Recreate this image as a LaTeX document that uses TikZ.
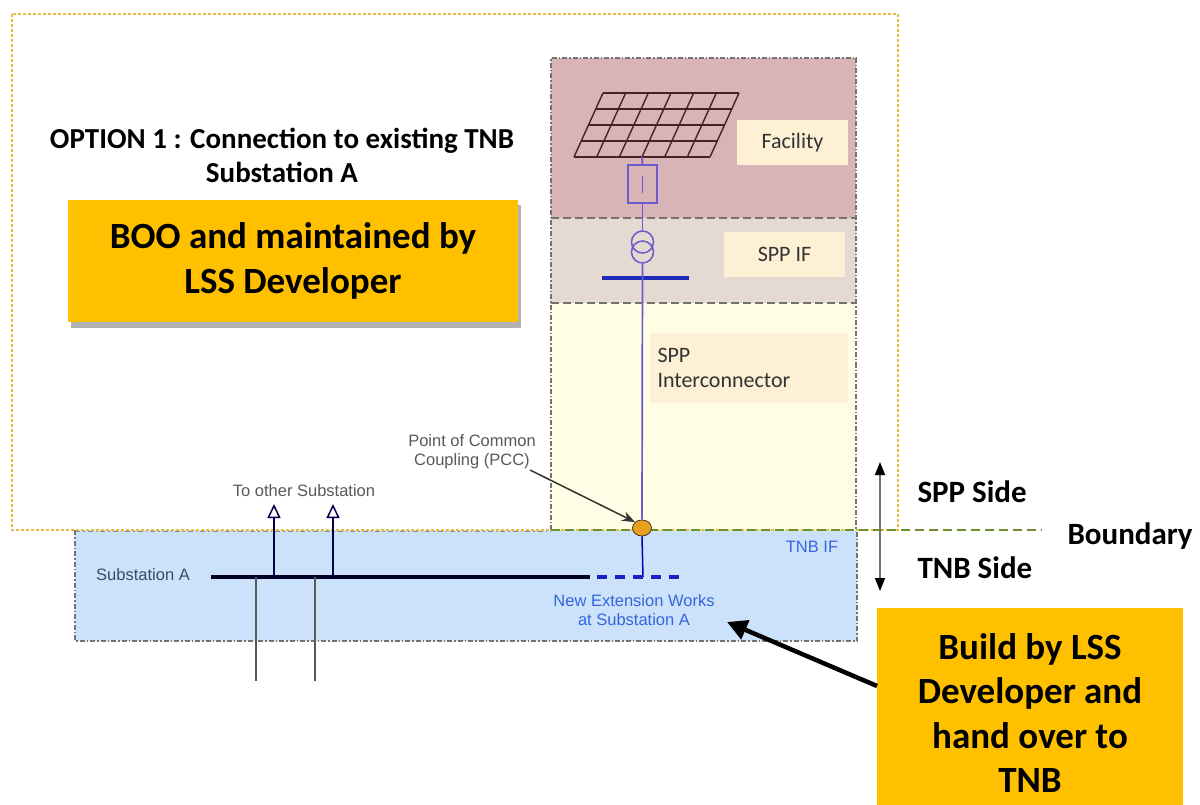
\documentclass[tikz,border=0pt]{standalone}
\usepackage{fontspec}
\setmainfont{Carlito}
\newfontfamily\arialf{Liberation Sans}
\usetikzlibrary{arrows.meta,shapes.geometric}
\definecolor{pinkreg}{HTML}{D9B4B6}
\definecolor{ifreg}{HTML}{E4DAD2}
\definecolor{icreg}{HTML}{FFFDE4}
\definecolor{tnbreg}{HTML}{CCE2FA}
\definecolor{lblbox}{HTML}{FDF0D4}
\definecolor{orangebox}{HTML}{FFC000}
\definecolor{goldline}{HTML}{E2BE3A}
\definecolor{greenline}{HTML}{6E8E30}
\definecolor{purpline}{HTML}{6A5ACD}
\definecolor{busblue}{HTML}{1E2CB8}
\definecolor{txtblue}{HTML}{3366DD}
\definecolor{panelc}{HTML}{4A2020}
\definecolor{pccfill}{HTML}{E8A020}
\definecolor{subtxt}{HTML}{3A4A6A}
\tikzset{
  regborder/.style={draw=black!55, line width=1.2pt, dash pattern=on 5pt off 2pt on 1.5pt off 2pt},
  lbl/.style={fill=lblbox, inner sep=0pt, font=\fontsize{22}{26}\selectfont, text=black!80},
  calloutbox/.style={fill=orangebox, font=\bfseries\fontsize{37}{44.5}\selectfont, align=center},
  smalltxt/.style={font=\arialf\fontsize{16.5}{19}\selectfont},
  headtxt/.style={font=\bfseries\fontsize{29}{34}\selectfont, align=center},
  sidetxt/.style={font=\bfseries\fontsize{31}{36}\selectfont, anchor=west},
  wire/.style={line width=1.7pt, draw=purpline},
}
\begin{document}
\begin{tikzpicture}[x=1pt,y=-1pt]
\useasboundingbox (0,0) rectangle (1200,805);
\fill[white] (0,0) rectangle (1200,805);

% SPP regions
\fill[pinkreg] (551,58) rectangle (856,218);
\fill[ifreg] (551,218) rectangle (856,303);
\fill[icreg] (551,303) rectangle (856,530);
% TNB IF region
\fill[tnbreg] (75,530) rectangle (857,641);

% region borders
\draw[regborder] (551,530) -- (551,58) -- (856,58) -- (856,530);
\draw[draw=black!55, line width=1.2pt, dash pattern=on 8pt off 4pt] (551,218) -- (856,218);
\draw[draw=black!55, line width=1.2pt, dash pattern=on 8pt off 4pt] (551,303) -- (856,303);
\draw[regborder] (75,530) -- (75,641) -- (857,641) -- (857,530);

% outer yellow dashed box
\draw[goldline, line width=1.3pt, dash pattern=on 3pt off 2pt] (12,14) rectangle (898,530);
\draw[black!45, line width=1pt, dash pattern=on 5pt off 3pt on 1.5pt off 3pt] (75,531) -- (551,531);

% boundary line
\draw[greenline, line width=2pt, dash pattern=on 9pt off 5pt] (551,530) -- (1042,530);

% label boxes
\node[lbl, minimum width=111pt, minimum height=45pt] (fac) at (792.5,142.5) {Facility};
\node[lbl, minimum width=121pt, minimum height=45pt] (sppif) at (784.5,254.5) {SPP IF};
\node[lbl, minimum width=198pt, minimum height=70pt, align=left, text width=183pt] (spic) at (749,368) {SPP\\[-1pt]Interconnector};

% solar panel
\foreach \i in {0,...,6} {
  \draw[panelc, line width=1.4pt] ({603+\i*136/6},93) -- ({574+\i*136/6},157);
}
\foreach \j in {0,...,4} {
  \draw[panelc, line width=1.4pt] ({603-29*\j/4},{93+16*\j}) -- ({739-29*\j/4},{93+16*\j});
}
\coordinate (panelbot) at (642,157);
% inverter
\node[draw=purpline, line width=1.3pt, minimum width=29pt, minimum height=38pt, inner sep=0pt] (inv) at (642.5,184) {};
\draw[purpline, line width=0.9pt] (642.5,176) -- (642.5,193);
\draw[wire] (panelbot) -- (inv.north);
% transformer
\node[draw=purpline, circle, line width=1.5pt, minimum size=22pt, inner sep=0pt] (tr1) at (642.5,242) {};
\node[draw=purpline, circle, line width=1.5pt, minimum size=22pt, inner sep=0pt] (tr2) at (642.5,252) {};
\draw[wire] (inv.south) -- (tr1.north);
% busbar
\coordinate (bbl) at (602,278);
\coordinate (bbr) at (689,278);
\draw[busblue, line width=4.5pt] (bbl) -- (bbr);
% PCC
\node[ellipse, draw=black!60!brown, fill=pccfill, line width=0.8pt, minimum width=19pt, minimum height=16pt, inner sep=0pt] (pcc) at (642,528) {};
\draw[wire] (tr2.south) -- (pcc.north);
% PCC down to substation extension
\coordinate (extj) at (643,577);
\draw[blue!70!black, line width=1.5pt] (pcc.south) -- (extj);

% substation bus
\coordinate (busl) at (211,577);
\coordinate (busr) at (590,577);
\draw[black!85!blue, line width=4.5pt] (busl) -- (busr);
\coordinate (extl) at (597,577);
\coordinate (extr) at (684,577);
\draw[busblue!80!blue, line width=4.5pt, dash pattern=on 10pt off 8pt] (extl) -- (extr);

% up arrows to other substation
\coordinate (u1b) at (274,577); \coordinate (u1t) at (274,504);
\coordinate (u2b) at (333,577); \coordinate (u2t) at (333,504);
\draw[black!70!blue, line width=1.6pt, -{Triangle[open, width=13pt, length=14pt, line width=1.5pt]}] (u1b) -- (u1t);
\draw[black!70!blue, line width=1.6pt, -{Triangle[open, width=13pt, length=14pt, line width=1.5pt]}] (u2b) -- (u2t);
% down lines
\coordinate (d1t) at (256,577); \coordinate (d1b) at (256,681);
\coordinate (d2t) at (315,577); \coordinate (d2b) at (315,681);
\draw[black!65, line width=1.6pt] (d1t) -- (d1b);
\draw[black!65, line width=1.6pt] (d2t) -- (d2b);

% small texts
\node[smalltxt, text=black!65] (toother) at (304,491) {To other Substation};
\node[smalltxt, text=subtxt] (subA) at (143,575) {Substation A};
\node[smalltxt, text=txtblue, align=center] (newext) at (634,610) {New Extension Works\\at Substation A};
\node[smalltxt, text=txtblue] (tnbif) at (812,547) {TNB IF};
\node[smalltxt, text=black!65, align=center] (pcclbl) at (472,452) {Point of Common\\Coupling (PCC)};
\draw[black!80, line width=1.5pt, -{Stealth[length=13pt, width=10pt]}] (530,470) -- (pcc.north west);

% heading
\node[headtxt] (opt) at (282,155) {OPTION 1 : Connection to existing TNB\\Substation A};

% BOO box with shadow
\fill[black!30] (71,205) rectangle (521,328);
\node[calloutbox, minimum width=450pt, minimum height=122pt, inner sep=0pt] (boo) at (293,261) {BOO and maintained by\\LSS Developer};

% build box
\node[calloutbox, minimum width=306pt, minimum height=197pt, inner sep=0pt, anchor=north west] (build) at (877,608) {};
\node[font=\bfseries\fontsize{37}{44.5}\selectfont, align=center] (buildtxt) at (1030,713) {Build by LSS\\Developer and\\hand over to\\TNB};
\draw[black, line width=4.5pt, -{Triangle[length=20pt, width=20pt]}] (build.west |- 0,686) -- (727,622);

% side arrows
\coordinate (sideo) at (880,530);
\coordinate (sidet) at (880,462);
\coordinate (sideb) at (880,591);
\draw[black!55, line width=1.6pt, -{Triangle[length=13pt, width=10pt, color=black]}] (sideo) -- (sidet);
\draw[black!55, line width=1.6pt, -{Triangle[length=13pt, width=10pt, color=black]}] (sideo) -- (sideb);
\node[sidetxt] (sppside) at (914,492) {SPP Side};
\node[sidetxt] (tnbside) at (914,568) {TNB Side};
\node[sidetxt] (bound) at (1064,536) {Boundary};
\end{tikzpicture}
\end{document}
